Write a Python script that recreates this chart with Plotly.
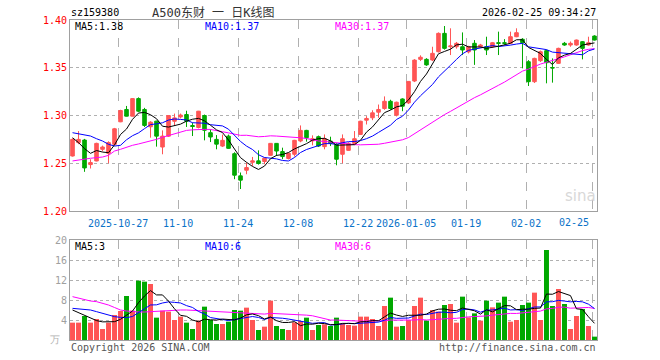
import plotly.graph_objects as go

dates = [
    "2025-10-15", "2025-10-16", "2025-10-17", "2025-10-20", "2025-10-21", "2025-10-22", "2025-10-23", "2025-10-24",
    "2025-10-27", "2025-10-28", "2025-10-29", "2025-10-30", "2025-10-31", "2025-11-03", "2025-11-04", "2025-11-05",
    "2025-11-06", "2025-11-07", "2025-11-10", "2025-11-11", "2025-11-12", "2025-11-13", "2025-11-14", "2025-11-17",
    "2025-11-18", "2025-11-19", "2025-11-20", "2025-11-21", "2025-11-24", "2025-11-25", "2025-11-26", "2025-11-27",
    "2025-11-28", "2025-12-01", "2025-12-02", "2025-12-03", "2025-12-04", "2025-12-05", "2025-12-08", "2025-12-09",
    "2025-12-10", "2025-12-11", "2025-12-12", "2025-12-15", "2025-12-16", "2025-12-17", "2025-12-18", "2025-12-19",
    "2025-12-22", "2025-12-23", "2025-12-24", "2025-12-25", "2025-12-26", "2025-12-29", "2025-12-30", "2025-12-31",
    "2026-01-05", "2026-01-06", "2026-01-07", "2026-01-08", "2026-01-09", "2026-01-12", "2026-01-13", "2026-01-14",
    "2026-01-15", "2026-01-16", "2026-01-19", "2026-01-20", "2026-01-21", "2026-01-22", "2026-01-23", "2026-01-26",
    "2026-01-27", "2026-01-28", "2026-01-29", "2026-01-30", "2026-02-02", "2026-02-03", "2026-02-04", "2026-02-05",
    "2026-02-06", "2026-02-09", "2026-02-10", "2026-02-11", "2026-02-12", "2026-02-13", "2026-02-24", "2026-02-25",
]

opens = [1.2576, 1.2716, 1.2743, 1.2486, 1.2524, 1.2646, 1.2604, 1.2698, 1.2934, 1.3063,
         1.2993, 1.3177, 1.3063, 1.2882, 1.2941, 1.2670, 1.2784, 1.2940, 1.2985, 1.3010,
         1.2895, 1.2875, 1.3000, 1.2820, 1.2750, 1.2680, 1.2784, 1.2600, 1.2368, 1.2427,
         1.2510, 1.2525, 1.2518, 1.2583, 1.2708, 1.2622, 1.2550, 1.2594, 1.2733, 1.2844,
         1.2735, 1.2778, 1.2674, 1.2732, 1.2698, 1.2594, 1.2635, 1.2708, 1.2802, 1.2951,
         1.2976, 1.3035, 1.3073, 1.3149, 1.3003, 1.3173, 1.3132, 1.3361, 1.3588, 1.3588,
         1.3581, 1.3668, 1.3860, 1.3720, 1.3720, 1.3720, 1.3666, 1.3756, 1.3720, 1.3720,
         1.3720, 1.3762, 1.3762, 1.3756, 1.3825, 1.3798, 1.3563, 1.3354, 1.3574, 1.3679,
         1.3502, 1.3546, 1.3756, 1.3738, 1.3738, 1.3773, 1.3738, 1.3832]
highs = [1.2760, 1.2837, 1.2755, 1.2542, 1.2715, 1.2685, 1.2730, 1.2870, 1.3060, 1.3100,
         1.3180, 1.3190, 1.3080, 1.2940, 1.2945, 1.2844, 1.3005, 1.3020, 1.3020, 1.3050,
         1.2925, 1.3048, 1.3010, 1.2855, 1.2795, 1.2800, 1.2800, 1.2615, 1.2403, 1.2507,
         1.2566, 1.2635, 1.2560, 1.2710, 1.2712, 1.2663, 1.2610, 1.2745, 1.2896, 1.2850,
         1.2792, 1.2790, 1.2802, 1.2778, 1.2710, 1.2802, 1.2720, 1.2837, 1.2945, 1.2993,
         1.3055, 1.3115, 1.3200, 1.3165, 1.3145, 1.3180, 1.3360, 1.3590, 1.3630, 1.3600,
         1.3720, 1.3870, 1.3937, 1.3913, 1.3770, 1.3870, 1.3730, 1.3790, 1.3750, 1.3825,
         1.3770, 1.3878, 1.3800, 1.3878, 1.3913, 1.3810, 1.3580, 1.3605, 1.3680, 1.3690,
         1.3598, 1.3710, 1.3770, 1.3775, 1.3795, 1.3780, 1.3825, 1.3840]
lows = [1.2570, 1.2700, 1.2410, 1.2445, 1.2520, 1.2625, 1.2500, 1.2690, 1.2930, 1.2990,
        1.2990, 1.3035, 1.2880, 1.2768, 1.2674, 1.2594, 1.2775, 1.2890, 1.2970, 1.2880,
        1.2785, 1.2865, 1.2740, 1.2722, 1.2646, 1.2670, 1.2650, 1.2333, 1.2230, 1.2385,
        1.2472, 1.2486, 1.2490, 1.2580, 1.2576, 1.2542, 1.2540, 1.2570, 1.2720, 1.2726,
        1.2688, 1.2670, 1.2646, 1.2680, 1.2479, 1.2500, 1.2630, 1.2698, 1.2800, 1.2906,
        1.2951, 1.2976, 1.3060, 1.3060, 1.2990, 1.3045, 1.3120, 1.3350, 1.3570, 1.3520,
        1.3570, 1.3660, 1.3690, 1.3633, 1.3700, 1.3633, 1.3650, 1.3530, 1.3710, 1.3633,
        1.3710, 1.3633, 1.3740, 1.3750, 1.3820, 1.3494, 1.3309, 1.3340, 1.3560, 1.3337,
        1.3344, 1.3540, 1.3730, 1.3720, 1.3730, 1.3588, 1.3730, 1.3785]
closes = [1.2750, 1.2750, 1.2451, 1.2507, 1.2708, 1.2670, 1.2716, 1.2861, 1.3052, 1.2993,
          1.3177, 1.3045, 1.2896, 1.2930, 1.2784, 1.2784, 1.3000, 1.2975, 1.3005, 1.2940,
          1.2885, 1.3045, 1.2845, 1.2775, 1.2700, 1.2740, 1.2656, 1.2375, 1.2323, 1.2455,
          1.2525, 1.2497, 1.2553, 1.2708, 1.2628, 1.2570, 1.2604, 1.2740, 1.2844, 1.2768,
          1.2757, 1.2680, 1.2757, 1.2708, 1.2542, 1.2757, 1.2708, 1.2757, 1.2940, 1.2969,
          1.3028, 1.3063, 1.3149, 1.3073, 1.3139, 1.3097, 1.3357, 1.3580, 1.3610, 1.3530,
          1.3651, 1.3860, 1.3703, 1.3728, 1.3756, 1.3686, 1.3720, 1.3686, 1.3738, 1.3686,
          1.3762, 1.3756, 1.3756, 1.3825, 1.3867, 1.3762, 1.3354, 1.3598, 1.3668, 1.3553,
          1.3498, 1.3703, 1.3738, 1.3756, 1.3790, 1.3703, 1.3762, 1.3790]

# volume, unit: 万
volumes = [3.47, 3.47, 4.80, 3.47, 4.20, 2.20, 3.47, 5.00, 5.80, 8.80,
           5.87, 11.87, 11.67, 11.20, 4.47, 5.87, 5.67, 4.00, 4.67, 3.47,
           2.20, 3.87, 6.67, 4.00, 3.20, 3.20, 3.67, 6.00, 5.87, 6.47,
           4.00, 2.00, 2.67, 7.87, 2.80, 2.20, 2.00, 3.53, 3.80, 4.47,
           2.00, 3.00, 3.13, 2.80, 4.47, 3.20, 3.00, 2.87, 4.67, 4.67,
           4.20, 2.80, 6.80, 8.47, 2.67, 2.80, 4.00, 6.80, 8.47, 3.87,
           6.00, 5.67, 7.00, 7.20, 3.47, 8.67, 4.53, 5.33, 3.87, 7.87,
           6.53, 7.47, 8.67, 3.67, 4.00, 7.00, 7.47, 9.47, 4.00, 18.00,
           6.80, 10.20, 7.20, 2.20, 4.80, 6.20, 2.80, 0.67]

# moving-average values before enough in-window history exists
ma5_head = [1.2767, 1.2716, 1.2653, 1.2604]
ma10_head = [1.2820, 1.2809, 1.2799, 1.2785, 1.2757, 1.2733, 1.2698, 1.2680, 1.2688]
ma30_head = [1.2524, 1.2535, 1.2549, 1.2552, 1.2559, 1.2565, 1.2583, 1.2628, 1.2646, 1.2668,
             1.2688, 1.2702, 1.2716, 1.2735, 1.2750, 1.2772, 1.2790, 1.2810, 1.2830, 1.2844,
             1.2850, 1.2854, 1.2855, 1.2854, 1.2845, 1.2830, 1.2818, 1.2802, 1.2792]
vma5_head = [6.00, 5.47, 5.00, 4.33]
vma10_head = [6.33, 6.27, 6.20, 6.00, 5.67, 5.33, 5.00, 4.67, 4.53]
vma30_head = [8.67, 8.40, 8.00, 7.80, 7.67, 7.33, 7.00, 6.50, 6.00, 5.80,
              5.67, 5.60, 5.60, 5.67, 5.80, 5.90, 6.00, 6.00, 6.00, 6.00,
              5.93, 5.87, 5.80, 5.73, 5.67, 5.60, 5.53, 5.47, 5.40]

tick_dates = ["2025-10-27", "2025-11-10", "2025-11-24", "2025-12-08", "2025-12-22",
              "2026-01-05", "2026-01-19", "2026-02-02", "2026-02-25"]
tick_labels = ["2025-10-27", "11-10", "11-24", "12-08", "12-22", "2026-01-05", "01-19", "02-02", "02-25"]
price_ticks = [1.20, 1.25, 1.30, 1.35, 1.40]
vol_ticks = [4, 8, 12, 16, 20]


def moving_avg(vals, n, head):
    out = list(head)
    for i in range(n - 1, len(vals)):
        out.append(sum(vals[i - n + 1:i + 1]) / n)
    return out


ma5 = moving_avg(closes, 5, ma5_head)
ma10 = moving_avg(closes, 10, ma10_head)
ma30 = moving_avg(closes, 30, ma30_head)
vma5 = moving_avg(volumes, 5, vma5_head)
vma10 = moving_avg(volumes, 10, vma10_head)
vma30 = moving_avg(volumes, 30, vma30_head)

RED = "#ff5555"
GREEN = "#00a800"
MONO = "DejaVu Sans Mono, Liberation Mono, monospace"

xs = list(range(len(dates)))
grid_pos = [dates.index(d) - 0.4 for d in tick_dates]

fig = go.Figure()
fig.add_trace(go.Candlestick(
    x=xs, open=opens, high=highs, low=lows, close=closes,
    increasing=dict(line=dict(color=RED, width=1), fillcolor=RED),
    decreasing=dict(line=dict(color=GREEN, width=1), fillcolor=GREEN),
    whiskerwidth=0, xaxis="x", yaxis="y", showlegend=False, hoverinfo="skip",
))
for vals, col in [(ma30, "#ff00ff"), (ma10, "#0000ff"), (ma5, "#000000")]:
    fig.add_trace(go.Scatter(x=xs, y=vals, mode="lines", line=dict(color=col, width=1),
                             xaxis="x", yaxis="y", showlegend=False, hoverinfo="skip"))

vcolors = [RED if c >= o else GREEN for o, c in zip(opens, closes)]
fig.add_trace(go.Bar(x=xs, y=volumes, marker=dict(color=vcolors, line=dict(width=0)),
                     width=0.83, xaxis="x2", yaxis="y2", showlegend=False, hoverinfo="skip"))
for vals, col in [(vma30, "#ff00ff"), (vma10, "#0000ff"), (vma5, "#000000")]:
    fig.add_trace(go.Scatter(x=xs, y=vals, mode="lines", line=dict(color=col, width=1),
                             xaxis="x2", yaxis="y2", showlegend=False, hoverinfo="skip"))

L, R, T, B = 70, 597, 20, 340
W, H = 660, 360


def px(x):
    return (x - L) / (R - L)


def py(y):
    return (B - y) / (B - T)


axis_common = dict(showline=True, mirror=True, linecolor="#a0a0a0", linewidth=1,
                   zeroline=False, ticks="", fixedrange=True)

fig.update_layout(
    width=W, height=H,
    margin=dict(l=L, r=W - R, t=T, b=H - B),
    paper_bgcolor="white", plot_bgcolor="white",
    font=dict(family=MONO, size=10),
    boxgap=0.15,
    xaxis=dict(domain=[0, 1], range=[-0.42, 87.42], anchor="y",
               tickmode="array", tickvals=grid_pos,
               ticktext=tick_labels[:-1] + [""],
               tickfont=dict(color="#0a72c8", size=10, family=MONO),
               ticklabelstandoff=3,
               showgrid=True, gridcolor="#b0b0b0", griddash="dash", gridwidth=1,
               rangeslider=dict(visible=False), **axis_common),
    yaxis=dict(domain=[(B - 211) / (B - T), 1], range=[1.20, 1.40], anchor="x",
               tickmode="array", tickvals=price_ticks,
               ticktext=["%.2f" % v for v in price_ticks],
               tickfont=dict(color="#ff0000", size=10, family=MONO),
               showgrid=True, gridcolor="#b0b0b0", griddash="dot", gridwidth=1,
               **axis_common),
    xaxis2=dict(domain=[0, 1], range=[-0.42, 87.42], anchor="y2", matches="x",
                tickmode="array", tickvals=grid_pos, showticklabels=False,
                showgrid=True, gridcolor="#b0b0b0", griddash="dash", gridwidth=1,
                **axis_common),
    yaxis2=dict(domain=[0, (B - 240) / (B - T)], range=[0, 20], anchor="x2",
                tickmode="array", tickvals=vol_ticks, ticktext=[str(v) for v in vol_ticks],
                tickfont=dict(color="#a0a0a0", size=10, family=MONO),
                showgrid=True, gridcolor="#b0b0b0", griddash="dot", gridwidth=1,
                **axis_common),
)


def note(text, x, y, color, anchor="left", size=10, family=MONO):
    fig.add_annotation(text=text, x=px(x), y=py(y), xref="paper", yref="paper",
                       xanchor=anchor, yanchor="middle", showarrow=False,
                       font=dict(color=color, size=size, family=family))


note("sz159380", 69, 13, "#000000")
note("A500东财 一 日K线图", 213, 13, "#333333", anchor="center", size=12,
     family="DejaVu Sans Mono, Noto Sans CJK SC")
note("2026-02-25 09:34:27", 598, 13, "#000000", anchor="right")
note("MA5:%.2f" % ma5[-1], 73, 26, "#000000")
note("MA10:%.2f" % ma10[-1], 203, 26, "#0000ff")
note("MA30:%.2f" % ma30[-1], 333, 26, "#ff00ff")
note("MA5:%d" % round(vma5[-1]), 73, 246, "#000000")
note("MA10:%d" % round(vma10[-1]), 203, 246, "#0000ff")
note("MA30:%d" % round(vma30[-1]), 333, 246, "#ff00ff")
note("Copyright 2026 SINA.COM", 69, 347, "#555555")
note("http://finance.sina.com.cn", 598, 347, "#555555", anchor="right")
note("万", 62, 339, "#b0b0b0", anchor="right")
note("sina", 580, 196, "#d8d8d8", anchor="center", size=15, family="DejaVu Sans")
fig.add_annotation(text=tick_labels[-1], x=grid_pos[-1] - 0.2, y=py(222), xref="x", yref="paper",
                   xanchor="right", yanchor="middle", showarrow=False,
                   font=dict(color="#0a72c8", size=10, family=MONO))

fig.write_html("out.html")
